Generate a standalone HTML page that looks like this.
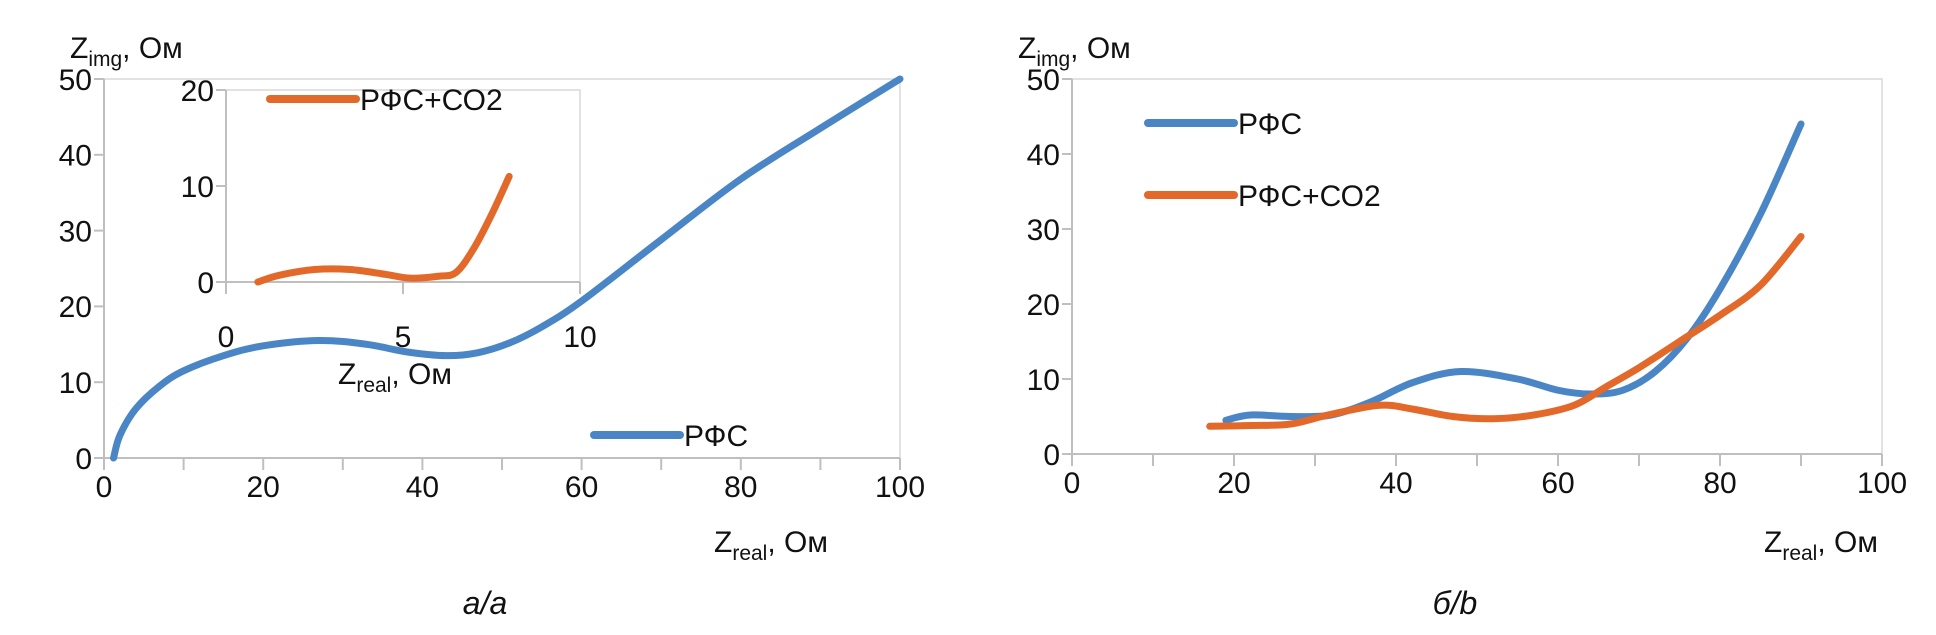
<!DOCTYPE html>
<html><head><meta charset="utf-8"><style>
body{margin:0;background:#fff}
svg text{font-family:"Liberation Sans",sans-serif;fill:#111}
</style></head><body>
<svg id="s" width="1936" height="630" xmlns="http://www.w3.org/2000/svg"></svg>
<script>
const mainX=[1.2,2,4,7,10,15,20,27,33,38,43,47,51,55,60,70,80,90,100];
const mainY=[0,3,6.5,9.5,11.5,13.5,14.8,15.5,15,14,13.5,13.9,15.2,17.3,20.7,28.8,36.8,43.5,50];
const insetX=[0.9,1.5,2.5,3.5,4.5,5.2,6,6.5,7,7.5,8];
const insetY=[0,0.7,1.3,1.3,0.8,0.4,0.6,1,3.5,7,11];
const rfsX=[19,22,27,32,37,42,48,55,60,64,68,72,76,80,85,90];
const rfsY=[4.5,5.2,5,5.2,7,9.5,11,10,8.5,8,8.5,11,15.5,22,32,44];
const co2X=[17,22,27,32,38,42,47,52,57,62,66,70,75,80,85,90];
const co2Y=[3.7,3.8,4,5.3,6.5,6,5,4.7,5.2,6.5,9,11.5,15,18.5,22.5,29];
const xTicks=[0,20,40,60,80,100];
const yTicks=[0,10,20,30,40,50];
const insetXTicks=[0,5,10];
const insetYTicks=[0,10,20];
const S=document.getElementById('s');
const NS='http://www.w3.org/2000/svg';
function el(t,a,txt){const e=document.createElementNS(NS,t);for(const k in a)e.setAttribute(k,a[k]);if(txt!==undefined)e.textContent=txt;S.appendChild(e);return e;}
function axis(x0,x1,y0,y1,xmax,ymax){return{x:v=>x0+(x1-x0)*v/xmax,y:v=>y0-(y0-y1)*v/ymax};}
function smooth(xs,ys,A){const p=xs.map((v,i)=>[A.x(v),A.y(ys[i])]);let d='M'+p[0][0]+','+p[0][1];
for(let i=0;i<p.length-1;i++){const a=p[i-1]||p[i],b=p[i],c=p[i+1],e=p[i+2]||c;
d+=` C${b[0]+(c[0]-a[0])/6},${b[1]+(c[1]-a[1])/6} ${c[0]-(e[0]-b[0])/6},${c[1]-(e[1]-b[1])/6} ${c[0]},${c[1]}`;}return d;}
function frame(A,x0,x1,y0,y1,xmax,ymax,xt,yt,minor,fs,lblY,name,box){
 let e;
 if(box){e=el('path',{d:`M${x0},${y1}H${x1}V${y0}`,stroke:'#d9d9d9','stroke-width':1.5,fill:'none'});}
 e=el('line',{x1:x0,x2:x1,y1:y0,y2:y0,stroke:'#bfbfbf','stroke-width':2});
 e=el('line',{x1:x0,x2:x0,y1:y0,y2:y1,stroke:'#bfbfbf','stroke-width':2});
 for(let v=0;v<=xmax+1e-9;v+=minor){el('line',{x1:A.x(v),x2:A.x(v),y1:y0,y2:y0+12,stroke:'#bfbfbf','stroke-width':2});}
 yt.forEach(v=>{el('line',{x1:x0-10,x2:x0,y1:A.y(v),y2:A.y(v),stroke:'#bfbfbf','stroke-width':2});
  e=el('text',{x:x0-12,y:A.y(v)+fs*0.36,'font-size':fs,'text-anchor':'end'},v);});
 xt.forEach(v=>{e=el('text',{x:A.x(v),y:lblY,'font-size':fs,'text-anchor':'middle'},v);});
}
function title(x,y,sub,name,fs){const e=el('text',{x:x,y:y,'font-size':fs});
 e.innerHTML=`Z<tspan font-size="${fs*0.7}" dy="8">${sub}</tspan><tspan dy="-8">, Ом</tspan>`;}
function line(d,c,name){const e=el('path',{d:d,stroke:c,'stroke-width':7,fill:'none','stroke-linecap':'round'});}
function legend(x,y,c,t,name){let e=el('line',{x1:x,x2:x+86,y1:y,y2:y,stroke:c,'stroke-width':8,'stroke-linecap':'round'});
 e=el('text',{x:x+90,y:y+11,'font-size':30},t);}
const BL='#4a86c6',OR='#e2692a';
const FS=30;
// left
const A=axis(104,900,458,79,100,50);
frame(A,104,900,458,79,100,50,xTicks,yTicks,10,FS,497,'left',true);
line(smooth(mainX,mainY,A),BL,'rfs-line-main');
title(70,58,'img','left-y-title',FS);title(714,552,'real','left-x-title',FS);
legend(594,435,BL,'РФС','legend-rfs-left');
// inset
el('rect',{x:226,y:90,width:354,height:192,fill:'#fff'});
const I=axis(226,580,282,90,10,20);
frame(I,226,580,282,90,10,20,insetXTicks,insetYTicks,5,FS,347,'inset',true);
line(smooth(insetX,insetY,I),OR,'rfs-co2-line-inset');
title(338,384,'real','inset-x-title',FS);
legend(270,99,OR,'РФС+СО2','legend-rfs-co2-inset');
// right
const B=axis(1072,1882,454,79,100,50);
frame(B,1072,1882,454,79,100,50,xTicks,yTicks,10,FS,493,'right',true);
line(smooth(rfsX,rfsY,B),BL,'rfs-line-right');
line(smooth(co2X,co2Y,B),OR,'rfs-co2-line-right');
title(1018,58,'img','right-y-title',FS);title(1764,552,'real','right-x-title',FS);
legend(1148,123,BL,'РФС','legend-rfs-right');
legend(1148,195,OR,'РФС+СО2','legend-rfs-co2-right');
let c=el('text',{x:485,y:614,'font-size':32,'font-style':'italic','font-family':'Liberation Serif','text-anchor':'middle'},'a/a');
c=el('text',{x:1455,y:614,'font-size':32,'font-style':'italic','font-family':'Liberation Serif','text-anchor':'middle'},'б/b');
</script>
</body></html>
